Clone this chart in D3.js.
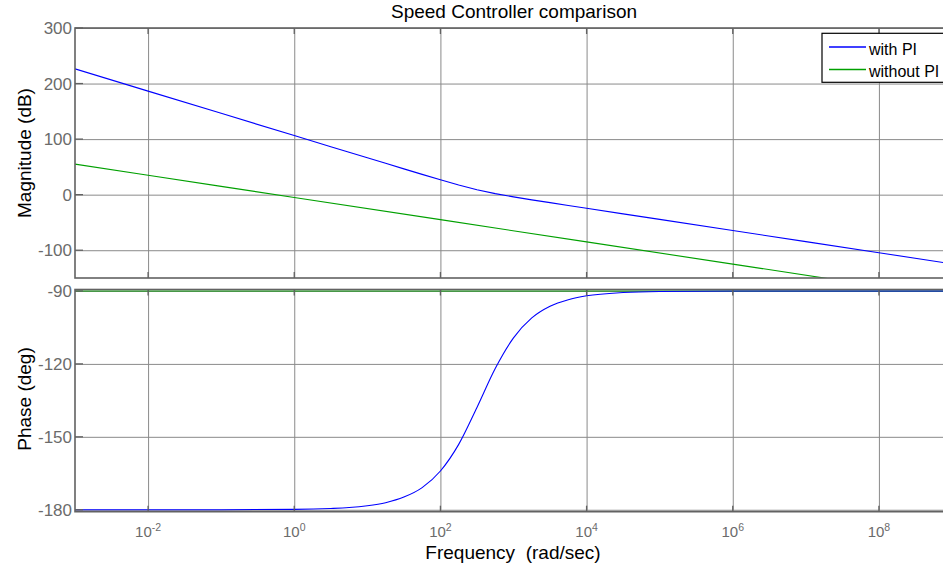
<!DOCTYPE html>
<html>
<head>
<meta charset="utf-8">
<script src="https://cdn.jsdelivr.net/npm/d3@7/dist/d3.min.js"></script>
<style>
  html, body { margin: 0; padding: 0; background: #fff; }
  svg { display: block; font-family: "Liberation Sans", Arial, sans-serif; }
</style>
</head>
<body>
<svg id="chart" width="943" height="569"></svg>
<script>
// ---------------- data ----------------
const title = "Speed Controller comparison";
const seriesNames = ["with PI", "without PI"];
const xTickExps = [-2, 0, 2, 4, 6, 8];
const magTicks = [-100, 0, 100, 200, 300];
const phaseTicks = [-180, -150, -120, -90];

// log10 of frequency (rad/sec) for the "with PI" samples
const freqExpWithPI = [-3, -2, -1, 0, 0.5, 0.75, 1, 1.25, 1.5, 1.75, 2, 2.25, 2.5, 2.75, 3, 3.25, 3.5, 3.75, 4, 4.5, 5, 6, 7, 8, 9];
const magWithPI =     [226.4, 186.4, 146.4, 106.4, 86.4, 76.4, 66.4, 56.4, 46.4, 36.5, 26.7, 17.4, 9.0, 1.9, -4.0, -9.3, -14.4, -19.5, -24.5, -34.5, -44.5, -64.5, -84.5, -104.5, -124.5];
const phaseWithPI =   [-180, -180, -179.98, -179.84, -179.48, -179.1, -178.36, -177.1, -174.8, -170.9, -164.05, -153.1, -137.9, -121.9, -109.3, -101.1, -96.3, -93.6, -92.0, -90.63, -90.2, -90.02, -90, -90, -90];

// log10 of frequency for the "without PI" samples
const freqExpNoPI = [-3, -2, -1, 0, 2, 4, 6, 8, 9];
const magNoPI =     [55, 35, 15, -5, -45, -85, -125, -165, -185];
const phaseNoPI =   [-90, -90, -90, -90, -90, -90, -90, -90, -90];

// ---------------- layout ----------------
const colors = ["#0000ff", "#00a000"];
const left = 75, right = 952;
const magTop = 28, magBottom = 278;
const phTop = 289.5, phBottom = 511.7;

const svg = d3.select("#chart");
svg.append("rect").attr("width", 943).attr("height", 569).attr("fill", "#fff");

const x = d3.scaleLog().domain([1e-3, 1e9]).range([left, right]);
const yMag = d3.scaleLinear().domain([-150, 300]).range([magBottom, magTop]);
const yPh = d3.scaleLinear().domain([-180.8, -89.4]).range([phBottom, phTop]);

const xTicks = xTickExps.map(e => Math.pow(10, e));
const gridColor = "#8a8a8a";
const borderColor = "#626262";
const tickTextColor = "#6b6b6b";

const defs = svg.append("defs");

function drawPanel(id, y, top, bottom, yTicks) {
  defs.append("clipPath").attr("id", id)
    .append("rect").attr("x", left).attr("y", top)
    .attr("width", right - left).attr("height", bottom - top);

  const g = svg.append("g");
  // vertical grid lines
  g.append("g").attr("transform", `translate(0,${bottom})`)
    .call(d3.axisBottom(x).tickValues(xTicks).tickSize(-(bottom - top)).tickFormat(""))
    .call(s => s.select(".domain").remove())
    .call(s => s.selectAll("line").attr("stroke", gridColor).attr("stroke-width", 1));
  // horizontal grid lines
  g.append("g").attr("transform", `translate(${left},0)`)
    .call(d3.axisLeft(y).tickValues(yTicks).tickSize(-(right - left)).tickFormat(""))
    .call(s => s.select(".domain").remove())
    .call(s => s.selectAll("line").attr("stroke", gridColor).attr("stroke-width", 1));
  // y tick labels (plain hyphen minus, as in the reference)
  g.selectAll(".ylab").data(yTicks).join("text").attr("class", "ylab")
    .attr("x", 72).attr("y", d => y(d)).attr("dy", "0.36em")
    .attr("text-anchor", "end").attr("fill", tickTextColor)
    .style("font-size", "17px").text(d => String(d));
  return g;
}

drawPanel("clipMag", yMag, magTop, magBottom, magTicks);
drawPanel("clipPh", yPh, phTop, phBottom, phaseTicks);

// curves
const lineMag = d3.line().x(d => x(Math.pow(10, d[0]))).y(d => yMag(d[1]));
const linePh = d3.line().x(d => x(Math.pow(10, d[0]))).y(d => yPh(d[1])).curve(d3.curveMonotoneX);

const magSeries = [d3.zip(freqExpWithPI, magWithPI), d3.zip(freqExpNoPI, magNoPI)];
const phSeries = [d3.zip(freqExpWithPI, phaseWithPI), d3.zip(freqExpNoPI, phaseNoPI)];

svg.append("g").attr("clip-path", "url(#clipMag)")
  .selectAll("path").data(magSeries).join("path")
  .attr("d", d => lineMag(d)).attr("fill", "none")
  .attr("stroke", (d, i) => colors[i]).attr("stroke-width", 1.1);

svg.append("g").attr("clip-path", "url(#clipPh)")
  .selectAll("path").data(phSeries.slice().reverse()).join("path")
  .attr("d", d => linePh(d)).attr("fill", "none")
  .attr("stroke", (d, i) => colors[1 - i]).attr("stroke-width", 1.1);

// borders & small inward ticks
function frame(top, bottom, y, yTicks) {
  const g = svg.append("g");
  g.append("rect").attr("x", left).attr("y", top).attr("width", right - left).attr("height", bottom - top)
    .attr("fill", "none").attr("stroke", borderColor).attr("stroke-width", 1.6);
  g.selectAll(".xtb").data(xTicks).join("line").attr("class", "xtb")
    .attr("x1", d => x(d)).attr("x2", d => x(d)).attr("y1", bottom).attr("y2", bottom - 6)
    .attr("stroke", borderColor).attr("stroke-width", 1.3);
  g.selectAll(".xtt").data(xTicks).join("line").attr("class", "xtt")
    .attr("x1", d => x(d)).attr("x2", d => x(d)).attr("y1", top).attr("y2", top + 6)
    .attr("stroke", borderColor).attr("stroke-width", 1.3);
  g.selectAll(".yt").data(yTicks).join("line").attr("class", "yt")
    .attr("x1", left).attr("x2", left + 8).attr("y1", d => y(d)).attr("y2", d => y(d))
    .attr("stroke", borderColor).attr("stroke-width", 1.3);
}
frame(magTop, magBottom, yMag, magTicks);
frame(phTop, phBottom, yPh, phaseTicks);

// x tick labels with superscripts
const xl = svg.append("g");
xTickExps.forEach(e => {
  const t = xl.append("text").attr("x", x(Math.pow(10, e))).attr("y", 537)
    .attr("text-anchor", "middle").attr("fill", tickTextColor).style("font-size", "15px");
  t.append("tspan").text("10");
  t.append("tspan").attr("dy", -6).style("font-size", "10.5px").text(String(e));
});

// axis labels & title
svg.append("text").attr("x", 513).attr("y", 559).attr("text-anchor", "middle")
  .attr("fill", "#000").style("font-size", "19px").attr("xml:space", "preserve")
  .text("Frequency  (rad/sec)");
svg.append("text").attr("transform", "translate(31,153) rotate(-90)").attr("text-anchor", "middle")
  .attr("fill", "#000").style("font-size", "19px").text("Magnitude (dB)");
svg.append("text").attr("transform", "translate(31,399) rotate(-90)").attr("text-anchor", "middle")
  .attr("fill", "#000").style("font-size", "19px").text("Phase (deg)");
svg.append("text").attr("x", 514).attr("y", 18).attr("text-anchor", "middle")
  .attr("fill", "#000").style("font-size", "19px").text(title);

// legend
const lg = svg.append("g");
lg.append("rect").attr("x", 822).attr("y", 33.3).attr("width", 130).attr("height", 49)
  .attr("fill", "#fff").attr("stroke", "#000").attr("stroke-width", 1.2);
seriesNames.forEach((name, i) => {
  const yy = 47 + i * 22.5;
  lg.append("line").attr("x1", 829).attr("x2", 866).attr("y1", yy).attr("y2", yy)
    .attr("stroke", colors[i]).attr("stroke-width", 1.4);
  lg.append("text").attr("x", 869).attr("y", yy + 7.5).attr("fill", "#000")
    .style("font-size", "16px").text(name);
});
</script>
</body>
</html>
